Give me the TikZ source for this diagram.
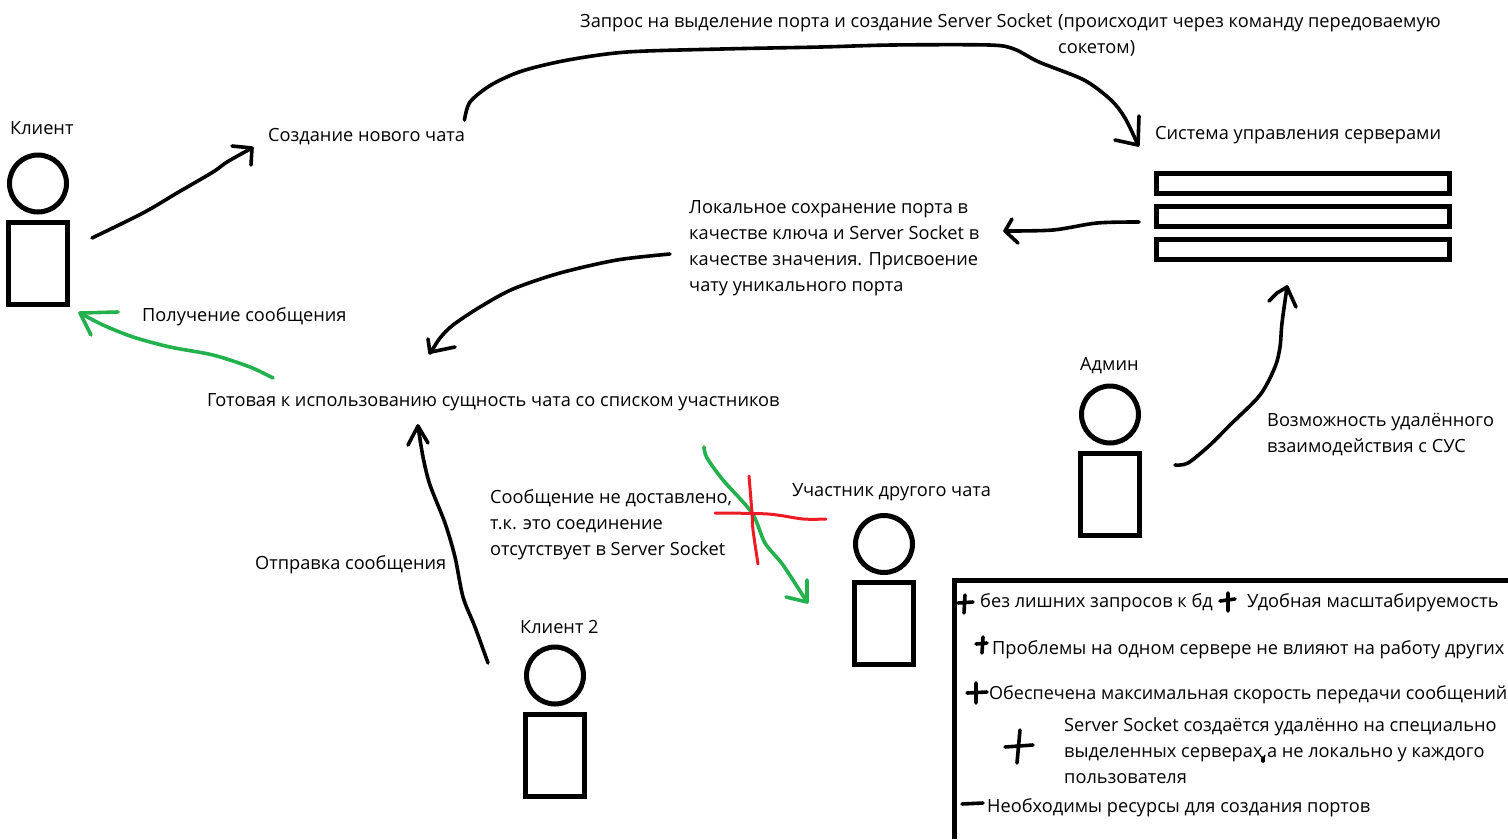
\documentclass[tikz,border=0pt]{standalone}
\usepackage{fontspec}
\setmainfont{Open Sans}
\usetikzlibrary{positioning}
\definecolor{sketchgreen}{RGB}{34,177,76}
\definecolor{sketchred}{RGB}{237,28,36}
\begin{document}
\begin{tikzpicture}
      [
        x=1pt, y=-1pt,
        txt/.style={anchor=west,inner sep=0pt,font=\fontsize{18.2}{26}\selectfont,align=left},
        pen/.style={line width=3.6pt,line cap=round,line join=round},
        greenpen/.style={pen,draw=sketchgreen},
        redpen/.style={pen,line width=3pt,draw=sketchred},
        head/.style={draw,circle,line width=5pt,minimum size=57pt,inner sep=0pt},
        body/.style={draw,line width=5pt,inner sep=0pt},
        bar/.style={draw,line width=5pt,minimum width=293pt,minimum height=20pt,inner sep=0pt}
      ]
      \useasboundingbox (0,0) rectangle (1508,839);
      % labels
      \node [txt] (request) at (580,23) {Запрос на выделение порта и создание Server Socket};
      \node [txt,anchor=north west] (requestb) at (1058,14) {(происходит через команду передоваемую\\сокетом)};
      \node [txt] (create) at (268,137) {Создание нового чата};
      \node [txt] (system) at (1155,135) {Система управления серверами};
      \node [txt,anchor=north west] (save) at (689,200) {Локальное сохранение порта в\\качестве ключа и Server Socket в\\качестве значения. Присвоение\\чату уникального порта};
      \node [txt] (ready) at (207,402) {Готовая к использованию сущность чата со списком участников};
      \node [txt] (recv) at (142,317) {Получение сообщения};
      \node [txt] (send) at (255,565) {Отправка сообщения};
      \node [txt,anchor=north west] (fail) at (490,489) {Сообщение не доставлено,\\т.к. это соединение\\отсутствует в Server Socket};
      \node [txt,anchor=north west] (remote) at (1267,413) {Возможность удалённого\\взаимодействия с СУС};
      % actors
      \node [txt] (client) at (10,128) {Клиент};
      \node [txt] (client2) at (520,627) {Клиент 2};
      \node [txt] (other) at (792,492) {Участник другого чата};
      \node [txt] (admin) at (1080,366) {Админ};
      \foreach \name/\x/\y in {a/38/183.5,b/555/675.5,c/884/544,d/1110/414.5} {
          \node [head] (head\name) at (\x,\y) {};
      }
      \foreach \name/\x/\y/\h in {a/38/263.5/82,b/555/755.5/82,c/884/623.5/82,d/1110/494.5/82} {
          \node [body,minimum width=59pt,minimum height=\h pt] (body\name) at (\x,\y) {};
      }
      % server list
      \foreach \y [count=\i] in {183.5,216,249.5} {
          \node [bar] (bar\i) at (1303,\y) {};
      }
      % free ends
      \coordinate (p1) at (92,238);
      \coordinate (p2) at (252,148);
      \coordinate (p3) at (464.5,120);
      \coordinate (p4) at (1138,145);
      \coordinate (p5) at (1139,222);
      \coordinate (p6) at (1005,231);
      \coordinate (p7) at (670,254);
      \coordinate (p8) at (431,352);
      \coordinate (p9) at (273,378);
      \coordinate (p10) at (80,313);
      \coordinate (p11) at (488,663);
      \coordinate (p12) at (418,426);
      \coordinate (p13) at (1175,465);
      \coordinate (p14) at (1287,287);
      \coordinate (p15) at (704,447);
      \coordinate (p16) at (807,602);
      % connectors
      \draw [pen] plot [smooth,tension=0.5] coordinates {(p1) (143,213) (177,193) (213,172) (227,162) (p2)};
      \draw [pen] (232,146) -- (p2) -- (251,165);
      \draw [pen] plot [smooth,tension=0.5] coordinates {(p3) (470,102) (491,85) (522,71) (568,60) (627,52) (722,49) (821,47) (892,45) (989,45) (1014,49) (1039,62) (1084,80) (1111,100) (1125,118) (p4)};
      \draw [pen] (1139,116) -- (p4) -- (1115,140);
      \draw [pen] plot [smooth,tension=0.5] coordinates {(p5) (1097,223) (1053,230) (p6)};
      \draw [pen] (1012,219) -- (p6) -- (1018,243);
      \draw [pen] plot [smooth,tension=0.5] coordinates {(p7) (617,260) (560,273) (513,289) (480,307) (453,325) (440,338) (p8)};
      \draw [pen] (428,339) -- (430,353) -- (p8) -- (455,347);
      \draw [greenpen] plot [smooth,tension=0.5] coordinates {(p9) (250,367) (213,355) (170,347) (133,337) (103,325) (p10)};
      \draw [greenpen] (118,312) -- (p10) -- (91,335);
      \draw [pen] plot [smooth,tension=0.5] coordinates {(p11) (475,627) (463,597) (455,557) (445,523) (430,485) (423,457) (p12)};
      \draw [pen] (408,445) -- (p12) -- (428,443);
      \draw [pen] plot [smooth,tension=0.5] coordinates {(p13) (1188,463) (1210,445) (1230,425) (1260,395) (1275,367) (1280,347) (1282,323) (p14)};
      \draw [pen] (1269,301) -- (1277,293) -- (p14) -- (1296,307);
      \draw [greenpen] plot [smooth,tension=0.5] coordinates {(p15) (707,458) (723,480) (752,513) (765,543) (783,565) (p16)};
      \draw [greenpen] (786,597) -- (p16) -- (807,580);
      % red cross
      \draw [redpen] plot [smooth,tension=0.5] coordinates {(749,476) (752,513) (753,530) (758,564)};
      \draw [redpen] plot [smooth,tension=0.5] coordinates {(715,513) (768,514) (803,519) (826,519)};
      % panel
      \draw [line width=5pt] (954.5,839) -- (954.5,580) -- (1508,580);
      \node [txt] (adv1) at (980,603) {без лишних запросов к бд};
      \node [txt] (adv2) at (1247,603) {Удобная масштабируемость};
      \node [txt] (adv3) at (992,650) {Проблемы на одном сервере не влияют на работу других};
      \node [txt,font=\fontsize{18}{26}\selectfont] (adv4) at (989,695) {Обеспечена максимальная скорость передачи сообщений};
      \node [txt,anchor=north west] (adv5) at (1064,717) {Server Socket создаётся удалённо на специально\\выделенных серверах,а не локально у каждого\\пользователя};
      \node [txt] (con1) at (987,808) {Необходимы ресурсы для создания портов};
      % plus and minus marks
      \foreach \xa/\ya/\xb/\yb/\xc/\yc/\xd/\yd in {958/603/973/602/965/595/964/613,1220/601/1235/599/1228/593/1228/611,976/644/987/643/983/637/982/653,967/693/987/692/976/683/976/703,1005/747/1033/745/1020/730/1017/763} {
          \draw [pen] (\xa,\ya) -- (\xb,\yb) (\xc,\yc) -- (\xd,\yd);
      }
      \draw [pen] (962,804) -- (983,803);
      \draw [pen] (1263,758) -- (1263,761);
    \end{tikzpicture}
\end{document}
